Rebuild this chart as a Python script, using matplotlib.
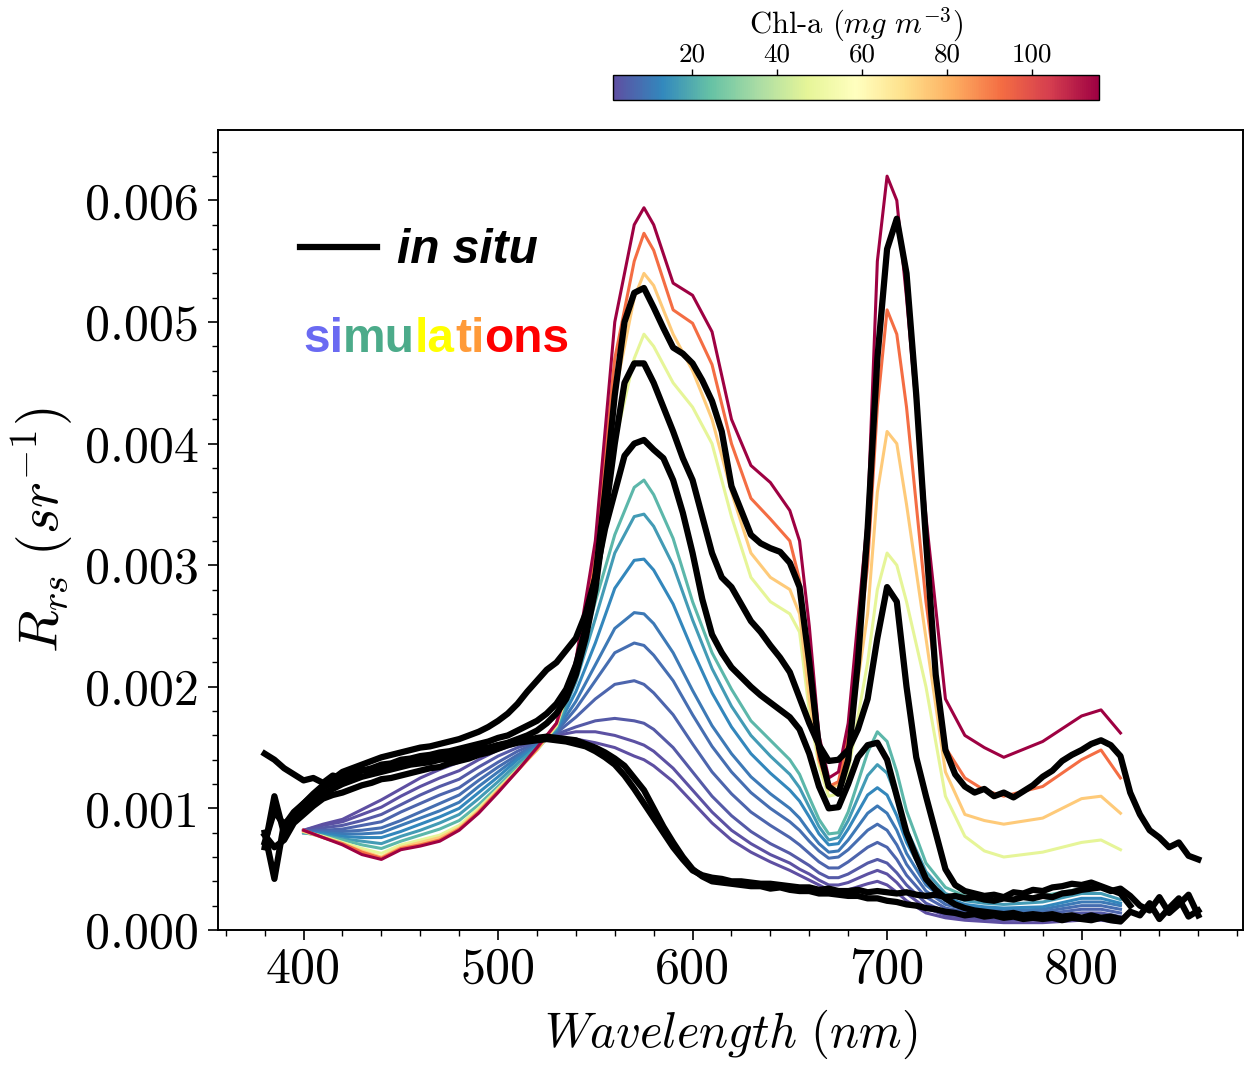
import numpy as np
import matplotlib
matplotlib.use("Agg")
import matplotlib.pyplot as plt
from matplotlib.lines import Line2D
from matplotlib.ticker import MultipleLocator, FormatStrFormatter
from matplotlib.font_manager import FontProperties

plt.rcParams['font.family'] = 'serif'
plt.rcParams['font.serif'] = ['cmr10', 'DejaVu Serif']
plt.rcParams['mathtext.fontset'] = 'cm'
plt.rcParams['axes.unicode_minus'] = False

# ---- simulated spectra (one per Chl-a value) ----
wl_sim = [400, 410, 420, 430, 440, 450, 460, 470, 480, 490, 500, 510, 520,
          530, 540, 550, 560, 570, 575, 580, 590, 600, 610, 620, 630, 640,
          650, 655, 660, 665, 670, 675, 680, 690, 695, 700,
          705, 710, 720, 730, 740, 750, 760, 780, 800, 810, 820]

sim_chl = [1.4, 2, 4, 6, 8, 10, 13, 17, 22, 47, 75, 93, 115.8]

rrs_chl1 = [0.00082, 0.00087, 0.00091, 0.00099, 0.00107, 0.00116, 0.00125, 0.00132, 0.00138, 0.00146, 0.00152, 0.00155, 0.00157,
            0.00158, 0.00157, 0.00154, 0.0015, 0.00143, 0.0014, 0.00135, 0.00122, 0.00105, 0.00088, 0.00074, 0.00064, 0.00056,
            0.00049, 0.00045, 0.00041, 0.00037, 0.00033, 0.00032, 0.00033, 0.00038, 0.0004, 0.00037,
            0.00031, 0.00024, 0.00014, 0.0001, 0.00008, 0.00007, 0.00006, 0.00006, 0.00008, 0.00008, 0.00006]
rrs_chl2 = [0.00082, 0.00086, 0.00089, 0.00095, 0.00101, 0.0011, 0.00118, 0.00125, 0.00131, 0.0014, 0.00148, 0.00153, 0.00156,
            0.0016, 0.00163, 0.00163, 0.0016, 0.00155, 0.00152, 0.00147, 0.00133, 0.00115, 0.00097, 0.00082, 0.00071, 0.00062,
            0.00055, 0.0005, 0.00046, 0.00041, 0.00037, 0.00037, 0.00039, 0.00046, 0.00049, 0.00046,
            0.00039, 0.0003, 0.00018, 0.00012, 0.0001, 0.00009, 0.00008, 0.00009, 0.00011, 0.00011, 0.00009]
rrs_chl4 = [0.00081, 0.00084, 0.00086, 0.0009, 0.00095, 0.00103, 0.00111, 0.00118, 0.00124, 0.00134, 0.00143, 0.0015, 0.00155,
            0.00161, 0.00167, 0.00172, 0.00174, 0.00172, 0.0017, 0.00165, 0.0015, 0.0013, 0.0011, 0.00094, 0.00081, 0.00071,
            0.00063, 0.00058, 0.00053, 0.00047, 0.00043, 0.00043, 0.00046, 0.00055, 0.00058, 0.00055,
            0.00047, 0.00037, 0.00022, 0.00015, 0.00012, 0.00011, 0.0001, 0.00011, 0.00014, 0.00014, 0.00011]
rrs_chl6 = [0.00081, 0.00082, 0.00083, 0.00086, 0.00089, 0.00097, 0.00104, 0.00111, 0.00117, 0.00128, 0.00138, 0.00147, 0.00154,
            0.00162, 0.00175, 0.0019, 0.00202, 0.00205, 0.00202, 0.00195, 0.00177, 0.00153, 0.0013, 0.00112, 0.00097, 0.00086,
            0.00076, 0.0007, 0.00063, 0.00056, 0.00051, 0.00051, 0.00056, 0.00068, 0.00072, 0.00068,
            0.00058, 0.00045, 0.00027, 0.00018, 0.00015, 0.00013, 0.00012, 0.00013, 0.00017, 0.00017, 0.00014]
rrs_chl8 = [0.0008, 0.00081, 0.00081, 0.00082, 0.00084, 0.0009, 0.00097, 0.00104, 0.00111, 0.00123, 0.00134, 0.00144, 0.00153,
            0.00163, 0.00182, 0.00205, 0.00228, 0.00236, 0.00234, 0.00226, 0.00205, 0.00177, 0.00151, 0.0013, 0.00113, 0.001,
            0.00089, 0.00082, 0.00073, 0.00065, 0.00059, 0.0006, 0.00066, 0.00082, 0.00087, 0.00082,
            0.0007, 0.00054, 0.00032, 0.00021, 0.00017, 0.00015, 0.00014, 0.00015, 0.0002, 0.0002, 0.00017]
rrs_chl10 = [0.0008, 0.0008, 0.00079, 0.00079, 0.0008, 0.00086, 0.00092, 0.00098, 0.00105, 0.00118, 0.0013, 0.00142, 0.00152,
             0.00164, 0.00188, 0.00218, 0.00248, 0.00261, 0.0026, 0.00252, 0.00228, 0.00197, 0.00168, 0.00145, 0.00126, 0.00112,
             0.001, 0.00092, 0.00081, 0.00071, 0.00064, 0.00065, 0.00074, 0.00096, 0.00102, 0.00096,
             0.00082, 0.00063, 0.00037, 0.00024, 0.00019, 0.00017, 0.00016, 0.00017, 0.00023, 0.00023, 0.0002]
rrs_chl13 = [0.0008, 0.00079, 0.00077, 0.00076, 0.00076, 0.00081, 0.00087, 0.00093, 0.001, 0.00113, 0.00126, 0.0014, 0.00151,
             0.00165, 0.00196, 0.00236, 0.00281, 0.00304, 0.00305, 0.00296, 0.00268, 0.0023, 0.00195, 0.00167, 0.00145, 0.00129,
             0.00115, 0.00106, 0.00093, 0.00079, 0.0007, 0.00071, 0.00083, 0.00111, 0.00117, 0.00111,
             0.00094, 0.00072, 0.00042, 0.00027, 0.00021, 0.00019, 0.00018, 0.00019, 0.00026, 0.00026, 0.00022]
rrs_chl17 = [0.0008, 0.00078, 0.00075, 0.00073, 0.00071, 0.00077, 0.00082, 0.00088, 0.00095, 0.00108, 0.00122, 0.00137, 0.0015,
             0.00166, 0.00204, 0.00256, 0.0031, 0.0034, 0.00342, 0.00332, 0.003, 0.00255, 0.00215, 0.00184, 0.0016, 0.00143,
             0.00128, 0.00117, 0.00101, 0.00085, 0.00074, 0.00076, 0.0009, 0.00127, 0.00136, 0.00129,
             0.00109, 0.00083, 0.00048, 0.0003, 0.00024, 0.00022, 0.00021, 0.00023, 0.0003, 0.0003, 0.00025]
rrs_chl22 = [0.0008, 0.00077, 0.00074, 0.0007, 0.00067, 0.00073, 0.00078, 0.00083, 0.0009, 0.00103, 0.00118, 0.00134, 0.00148,
             0.00167, 0.00212, 0.0027, 0.00325, 0.00364, 0.0037, 0.00358, 0.00322, 0.0027, 0.00228, 0.00198, 0.00172, 0.00156,
             0.0014, 0.00128, 0.00109, 0.00091, 0.00079, 0.0008, 0.00097, 0.00146, 0.00163, 0.00155,
             0.0013, 0.00098, 0.00055, 0.00035, 0.00028, 0.00026, 0.00025, 0.00028, 0.00034, 0.00035, 0.0003]
rrs_chl47 = [0.00081, 0.00077, 0.00072, 0.00067, 0.00063, 0.0007, 0.00074, 0.00078, 0.00086, 0.001, 0.00116, 0.00132, 0.00148,
             0.00168, 0.00215, 0.0029, 0.004, 0.0047, 0.0049, 0.0048, 0.0045, 0.0043, 0.004, 0.0034, 0.0029, 0.0027,
             0.0026, 0.00245, 0.0018, 0.00135, 0.0011, 0.00112, 0.0013, 0.0022, 0.0028, 0.0031,
             0.003, 0.0027, 0.002, 0.0011, 0.00077, 0.00065, 0.0006, 0.00064, 0.00072, 0.00074, 0.00066]
rrs_chl75 = [0.00081, 0.00076, 0.00071, 0.00065, 0.0006, 0.00068, 0.00072, 0.00076, 0.00084, 0.00098, 0.00115, 0.00131, 0.00148,
             0.00169, 0.00218, 0.003, 0.0044, 0.0052, 0.0054, 0.0053, 0.0049, 0.0046, 0.0042, 0.0036, 0.0031, 0.0029,
             0.0028, 0.0026, 0.0019, 0.0014, 0.00115, 0.0012, 0.0015, 0.0026, 0.0036, 0.0041,
             0.004, 0.0035, 0.0024, 0.0013, 0.00095, 0.0009, 0.00087, 0.00092, 0.00108, 0.0011, 0.00096]
rrs_chl93 = [0.00082, 0.00076, 0.00071, 0.00064, 0.00059, 0.00067, 0.0007, 0.00074, 0.00083, 0.00097, 0.00114, 0.00131, 0.00149,
             0.0017, 0.0022, 0.0031, 0.0047, 0.0055, 0.00573, 0.00559, 0.0051, 0.00499, 0.00465, 0.004, 0.00355, 0.00338,
             0.0032, 0.00288, 0.0021, 0.0014, 0.00118, 0.00122, 0.0016, 0.003, 0.0043, 0.0051,
             0.0049, 0.0043, 0.0027, 0.0015, 0.00125, 0.00115, 0.0011, 0.00118, 0.0014, 0.00148, 0.00125]
rrs_chl115 = [0.00082, 0.00076, 0.0007, 0.00062, 0.00058, 0.00066, 0.00069, 0.00073, 0.00082, 0.00096, 0.00113, 0.00131, 0.0015,
              0.0017, 0.00222, 0.0032, 0.005, 0.0058, 0.00594, 0.0058, 0.00532, 0.00522, 0.00492, 0.0042, 0.00382, 0.00368,
              0.00345, 0.0032, 0.0025, 0.0016, 0.00125, 0.0013, 0.0017, 0.0034, 0.0055, 0.0062,
              0.006, 0.0052, 0.0034, 0.0019, 0.0016, 0.0015, 0.00142, 0.00155, 0.00176, 0.00181, 0.00162]

sim_rrs = [rrs_chl1, rrs_chl2, rrs_chl4, rrs_chl6, rrs_chl8, rrs_chl10, rrs_chl13,
           rrs_chl17, rrs_chl22, rrs_chl47, rrs_chl75, rrs_chl93, rrs_chl115]

# ---- in situ spectra, 5 nm steps starting at 380 nm ----
insitu_a = [0.00072, 0.00098, 0.00086, 0.00097, 0.00104, 0.00111, 0.00117, 0.00121, 0.00125, 0.00127,
            0.00131, 0.00133, 0.00136, 0.00137, 0.0014, 0.00141, 0.00143, 0.00144, 0.00146, 0.00147,
            0.00149, 0.00151, 0.00153, 0.00155, 0.00158, 0.0016, 0.00164, 0.00168, 0.00172, 0.00178,
            0.00186, 0.00198, 0.00218, 0.00248, 0.0029, 0.0036, 0.0044, 0.005, 0.00524, 0.00528,
            0.00512, 0.00495, 0.00479, 0.00474, 0.00466, 0.00452, 0.00435, 0.0041, 0.00365, 0.00345,
            0.00325, 0.00318, 0.00314, 0.00311, 0.00302, 0.00282, 0.0022, 0.0015, 0.00118, 0.00112,
            0.0014, 0.0022, 0.0033, 0.0047, 0.0056, 0.00585, 0.0054, 0.0044, 0.0032, 0.0021,
            0.00148, 0.00128, 0.00118, 0.00113, 0.00116, 0.0011, 0.00113, 0.00109, 0.00114, 0.00119,
            0.00126, 0.00131, 0.00139, 0.00144, 0.00148, 0.00153, 0.00156, 0.00152, 0.00143, 0.00113,
            0.00095, 0.00082, 0.00076, 0.00068, 0.00072, 0.00061, 0.00058]
insitu_b = [0.0008, 0.00042, 0.00088, 0.00092, 0.00099, 0.00106, 0.00112, 0.00116, 0.0012, 0.00123,
            0.00126, 0.00128, 0.0013, 0.00132, 0.00134, 0.00136, 0.00137, 0.00138, 0.0014, 0.00141,
            0.00143, 0.00145, 0.00147, 0.00149, 0.00152, 0.00154, 0.00157, 0.0016, 0.00164, 0.0017,
            0.00178, 0.0019, 0.0021, 0.0024, 0.0028, 0.0034, 0.004, 0.0045, 0.00466, 0.00466,
            0.0045, 0.0043, 0.0041, 0.00388, 0.0037, 0.0034, 0.0031, 0.0029, 0.00282, 0.00268,
            0.00254, 0.00245, 0.00234, 0.00224, 0.00212, 0.00191, 0.0017, 0.00152, 0.00139, 0.0014,
            0.00148, 0.00165, 0.0019, 0.0024, 0.00282, 0.0027, 0.002, 0.00142, 0.0011, 0.0008,
            0.0005, 0.00037, 0.00032, 0.0003, 0.00028, 0.00029, 0.00027, 0.00031, 0.0003, 0.00033,
            0.00032, 0.00035, 0.00036, 0.00038, 0.00037, 0.00039, 0.00036, 0.00033, 0.0003, 0.0002]
insitu_c = [0.00068, 0.0011, 0.00079, 0.00096, 0.00104, 0.00112, 0.00119, 0.00124, 0.0013, 0.00133,
            0.00136, 0.00139, 0.00142, 0.00144, 0.00146, 0.00148, 0.0015, 0.00151, 0.00153, 0.00155,
            0.00157, 0.0016, 0.00163, 0.00167, 0.00172, 0.00178, 0.00186, 0.00196, 0.00205, 0.00214,
            0.0022, 0.0023, 0.0024, 0.0026, 0.0029, 0.0033, 0.0036, 0.0039, 0.004, 0.00403,
            0.00395, 0.00388, 0.0037, 0.00343, 0.0031, 0.00272, 0.00243, 0.00228, 0.00216, 0.00208,
            0.002, 0.00193, 0.00187, 0.00181, 0.00175, 0.00165, 0.00145, 0.00118, 0.001, 0.00101,
            0.0012, 0.00142, 0.00152, 0.00154, 0.0014, 0.0011, 0.0008, 0.0006, 0.00042, 0.00033,
            0.00026, 0.00021, 0.00018, 0.00016, 0.00015, 0.00014, 0.00013, 0.00014, 0.00012, 0.00013,
            0.00012, 0.00013, 0.00011, 0.00012, 0.0001, 0.00012, 0.0001, 0.00011, 0.00009]
insitu_d = [0.00145, 0.0014, 0.00133, 0.00128, 0.00123, 0.00125, 0.00121, 0.00127, 0.00125, 0.0013,
            0.00132, 0.0013, 0.00134, 0.00136, 0.00138, 0.0014, 0.00139, 0.00142, 0.00143, 0.00145,
            0.00146, 0.00148, 0.00149, 0.0015, 0.00152, 0.00153, 0.00155, 0.00156, 0.00158, 0.00159,
            0.00158, 0.00157, 0.00156, 0.00153, 0.0015, 0.00146, 0.00141, 0.00135, 0.00125, 0.00115,
            0.001, 0.00085, 0.00072, 0.0006, 0.0005, 0.00044, 0.0004, 0.00039, 0.00038, 0.00037,
            0.00036, 0.00036, 0.00034, 0.00035, 0.00033, 0.00032, 0.00032, 0.0003, 0.0003, 0.00029,
            0.00028, 0.00028, 0.00026, 0.00026, 0.00024, 0.00023, 0.00021, 0.0002, 0.00018, 0.00017,
            0.00015, 0.00014, 0.00012, 0.00013, 0.00011, 0.00012, 0.0001, 0.00011, 0.00009, 0.0001,
            0.00009, 0.0001, 0.00008, 0.0001, 0.00009, 0.00008, 0.0001, 0.00008, 0.00007, 0.00015,
            0.00012, 0.00022, 0.00009, 0.00018, 0.00026, 0.00011, 0.00016]
insitu_e = [0.00078, 0.00068, 0.00074, 0.00088, 0.00095, 0.00102, 0.00108, 0.00111, 0.00113, 0.00116,
            0.00119, 0.00121, 0.00124, 0.00125, 0.00127, 0.00129, 0.00131, 0.00133, 0.00134, 0.00137,
            0.00139, 0.00141, 0.00144, 0.00146, 0.00149, 0.00152, 0.00154, 0.00155, 0.00156, 0.00157,
            0.00156, 0.00155, 0.00153, 0.00151, 0.00147, 0.00142, 0.00136, 0.00127, 0.00116, 0.00104,
            0.00092, 0.0008, 0.00068, 0.00058, 0.00049, 0.00045, 0.00043, 0.00042, 0.0004, 0.0004,
            0.00039, 0.00038, 0.00038, 0.00037, 0.00036, 0.00035, 0.00035, 0.00033, 0.00034, 0.00032,
            0.00032, 0.00033, 0.00031, 0.00032, 0.00031, 0.0003, 0.00031, 0.00029, 0.00028, 0.00029,
            0.00027, 0.00028, 0.00026, 0.00027, 0.00025, 0.00024, 0.00026, 0.00025, 0.00027, 0.00026,
            0.00028, 0.00027, 0.0003, 0.00031, 0.00033, 0.00034, 0.00035, 0.00032, 0.00034, 0.00028,
            0.0002, 0.00016, 0.00027, 0.00014, 0.00021, 0.00029, 0.00012]

insitu = [insitu_a, insitu_b, insitu_c, insitu_d, insitu_e]

cbar_ticks = [20, 40, 60, 80, 100]

# ---- figure ----
fig = plt.figure(figsize=(12.45, 10.65), dpi=100)
ax = fig.add_axes([0.1751, 0.1268, 0.8233, 0.7512])

cmap = plt.get_cmap('Spectral_r')
norm = plt.Normalize(min(sim_chl), max(sim_chl))

for chl, rrs in zip(sim_chl, sim_rrs):
    ax.plot(wl_sim, rrs, color=cmap(norm(chl)), lw=2.2, zorder=2)

for rrs in insitu:
    wl = np.arange(380, 380 + 5 * len(rrs), 5)
    ax.plot(wl, rrs, color='black', lw=4.5, zorder=3, solid_joinstyle='round')

ax.set_xlim(356, 883)
ax.set_ylim(0, 0.00658)
ax.xaxis.set_major_locator(MultipleLocator(100))
ax.xaxis.set_minor_locator(MultipleLocator(20))
ax.yaxis.set_major_locator(MultipleLocator(0.001))
ax.yaxis.set_minor_locator(MultipleLocator(0.0002))
ax.yaxis.set_major_formatter(FormatStrFormatter('%.3f'))
ax.tick_params(which='major', direction='out', length=7, width=1.2, labelsize=36, pad=5)
ax.tick_params(which='minor', direction='out', length=4, width=1.0)
ax.tick_params(axis='y', pad=7)
for sp in ax.spines.values():
    sp.set_linewidth(1.4)

ax.set_xlabel(r'$Wavelength\ (nm)$', fontsize=35, labelpad=11)
ax.set_ylabel(r'$R_{rs}\ (sr^{-1})$', fontsize=40, labelpad=6)

# legend: in situ line + coloured "simulations"
sans_bi = FontProperties(family='Liberation Sans', weight='bold', style='italic', size=34.5)
handle = Line2D([], [], color='black', lw=4.5)
ax.legend([handle], ['in situ'], loc='upper left', bbox_to_anchor=(0.080, 0.877),
          frameon=False, prop=sans_bi, borderpad=0, borderaxespad=0,
          handlelength=1.6, handletextpad=0.42)

sim_parts = ['si', 'mu', 'la', 'ti', 'ons']
sim_colors = ['#6a6af2', '#4cab8a', '#ffff00', '#ff9a38', '#ff0000']
txt = ax.text(0.083, 0.7225, sim_parts[0], color=sim_colors[0], transform=ax.transAxes,
              family='Liberation Sans', weight='bold', fontsize=34.5, va='baseline')
for part, col in zip(sim_parts[1:], sim_colors[1:]):
    txt = ax.annotate(part, xy=(1, 0), xycoords=txt, va='bottom', ha='left', color=col,
                      family='Liberation Sans', weight='bold', fontsize=34.5)

# colorbar on top
cax = fig.add_axes([0.4924, 0.9061, 0.3904, 0.0235])
sm = plt.cm.ScalarMappable(norm=norm, cmap=cmap)
cbar = fig.colorbar(sm, cax=cax, orientation='horizontal', ticks=cbar_ticks)
cax.xaxis.set_ticks_position('top')
cax.xaxis.set_label_position('top')
cax.tick_params(labelsize=19.5, length=4, width=1, pad=2)
cbar.outline.set_linewidth(1)
cbar.set_label(r'Chl-a $(mg\ m^{-3})$', fontsize=22, labelpad=7)

fig.savefig('out.png', dpi=100)
